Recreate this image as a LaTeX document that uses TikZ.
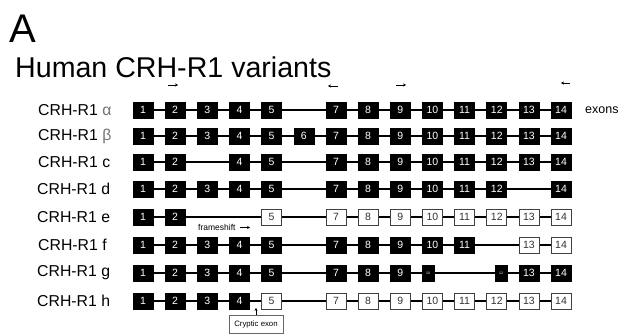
\documentclass[tikz,border=0pt]{standalone}
\usepackage{fontspec}
\setmainfont{Liberation Sans}
\usetikzlibrary{arrows.meta,backgrounds}
\begin{document}
\begin{tikzpicture}[x=1pt,y=-1pt,
  exb/.style={draw=black,fill=black,line width=0.6pt,minimum width=20pt,minimum height=16pt,inner sep=0pt,text=white,font=\fontsize{10.5}{11}\selectfont},
  exw/.style={draw=black!75,fill=white,line width=0.8pt,minimum width=20pt,minimum height=16pt,inner sep=0pt,text=black!80,font=\fontsize{10.5}{11}\selectfont},
  exs/.style={draw=black,fill=black,minimum width=12pt,minimum height=16pt,inner sep=0pt,text=white,font=\fontsize{3.5}{4}\selectfont},
  rowlab/.style={anchor=west,inner sep=0pt,font=\fontsize{15.8}{16}\selectfont},
  backbone/.style={line width=1.2pt,black},
  tinyarr/.style={line width=0.8pt,-{Stealth[length=3pt,width=3.2pt]}}]
\useasboundingbox (0,0) rectangle (629,335);
\node[anchor=base west,inner sep=0pt,font=\fontsize{40}{40}\selectfont] (lblA) at (9,42) {A};
\node[anchor=base west,inner sep=0pt,font=\fontsize{28.6}{29}\selectfont] (title) at (15,77) {Human CRH-R1 variants};
% row alpha
\node[rowlab] (la) at (38,110) {CRH-R1 \textcolor{black!55}{α}};
\foreach \k/\s in {1/exb,2/exb,3/exb,4/exb,5/exb,7/exb,8/exb,9/exb,10/exb,11/exb,12/exb,13/exb,14/exb}
  \node[\s] (a\k) at ({143+(\k-1)*32.16},110) {\k};
% row beta
\node[rowlab] (lb) at (38,136) {CRH-R1 \textcolor{black!55}{β}};
\foreach \k/\s in {1/exb,2/exb,3/exb,4/exb,5/exb,6/exb,7/exb,8/exb,9/exb,10/exb,11/exb,12/exb,13/exb,14/exb}
  \node[\s] (b\k) at ({143+(\k-1)*32.16},136) {\k};
% row c
\node[rowlab] (lc) at (38,162) {CRH-R1 c};
\foreach \k/\s in {1/exb,2/exb,4/exb,5/exb,7/exb,8/exb,9/exb,10/exb,11/exb,12/exb,13/exb,14/exb}
  \node[\s] (c\k) at ({143+(\k-1)*32.16},162) {\k};
% row d
\node[rowlab] (ld) at (37,189) {CRH-R1 d};
\foreach \k/\s in {1/exb,2/exb,3/exb,4/exb,5/exb,7/exb,8/exb,9/exb,10/exb,11/exb,12/exb,14/exb}
  \node[\s] (d\k) at ({143+(\k-1)*32.16},189) {\k};
% row e
\node[rowlab] (le) at (37,217) {CRH-R1 e};
\foreach \k/\s in {1/exb,2/exb,5/exw,7/exw,8/exw,9/exw,10/exw,11/exw,12/exw,13/exw,14/exw}
  \node[\s] (e\k) at ({143+(\k-1)*32.16},217) {\k};
% row f
\node[rowlab] (lf) at (38,245) {CRH-R1 f};
\foreach \k/\s in {1/exb,2/exb,3/exb,4/exb,5/exb,7/exb,8/exb,9/exb,10/exb,11/exb,13/exw,14/exw}
  \node[\s] (f\k) at ({143+(\k-1)*32.16},245) {\k};
% row g
\node[rowlab] (lg) at (37,273) {CRH-R1 g};
\foreach \k/\s in {1/exb,2/exb,3/exb,4/exb,5/exb,7/exb,8/exb,9/exb,13/exb,14/exb}
  \node[\s] (g\k) at ({143+(\k-1)*32.16},273) {\k};
\node[exs] (g10) at (428,273) {10};
\node[exs] (g12) at (501,273) {12};
% row h
\node[rowlab] (lh) at (37,301) {CRH-R1 h};
\foreach \k/\s in {1/exb,2/exb,3/exb,4/exb,5/exw,7/exw,8/exw,9/exw,10/exw,11/exw,12/exw,13/exw,14/exw}
  \node[\s] (h\k) at ({143+(\k-1)*32.16},301) {\k};
% backbones
\begin{scope}[on background layer]
  \foreach \r in {a,b,c,d,e,f,g,h}
    \draw[backbone] (\r1.center) -- (\r14.center);
\end{scope}
% exons label
\node[anchor=west,inner sep=0pt,font=\fontsize{12.5}{13}\selectfont] (exons) at (585,110) {exons};
% primer arrows
\coordinate (p1s) at (168,85); \coordinate (p1e) at (178,85);
\coordinate (p2s) at (338,86); \coordinate (p2e) at (328,86);
\coordinate (p3s) at (396,85); \coordinate (p3e) at (406,85);
\coordinate (p4s) at (570,83); \coordinate (p4e) at (561,83);
\draw[tinyarr] (p1s) -- (p1e);
\draw[tinyarr] (p2s) -- (p2e);
\draw[tinyarr] (p3s) -- (p3e);
\draw[tinyarr] (p4s) -- (p4e);
% frameshift
\node[anchor=west,inner sep=0pt,font=\fontsize{8.5}{9}\selectfont] (fs) at (198,227) {frameshift};
\coordinate (fsa) at (240,227.5); \coordinate (fsb) at (250,227.5);
\draw[tinyarr] (fsa) -- (fsb);
% cryptic exon
\node[draw=black!60,line width=0.6pt,minimum width=54pt,minimum height=18pt,inner sep=0pt,font=\fontsize{7.8}{8}\selectfont] (cryp) at (256,324) {Cryptic exon};
\coordinate (cra) at (256,314.5); \coordinate (crb) at (256,308);
\draw[line width=0.7pt,-{Stealth[length=2.8pt,width=3pt]}] (cra) -- (crb);
\end{tikzpicture}
\end{document}
